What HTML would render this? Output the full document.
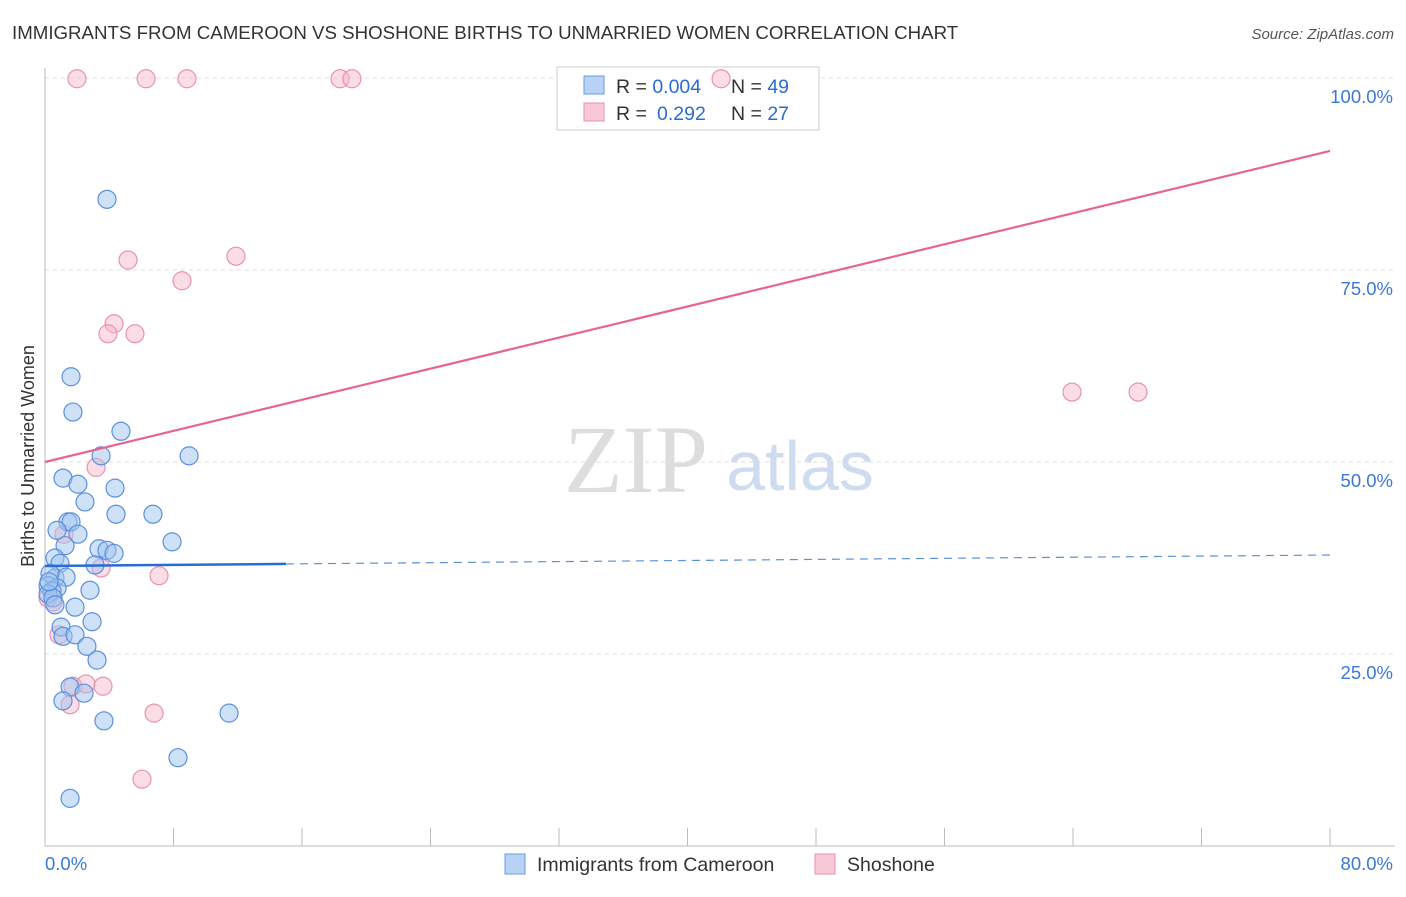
<!DOCTYPE html>
<html><head><meta charset="utf-8"><style>
body{margin:0;background:#fff;font-family:"Liberation Sans",sans-serif}
#c{position:relative;width:1406px;height:892px}
</style></head><body>
<div id="c">
<svg id="s" width="1406" height="892" xmlns="http://www.w3.org/2000/svg">
<text x="12" y="39" font-size="18.7" fill="#333">IMMIGRANTS FROM CAMEROON VS SHOSHONE BIRTHS TO UNMARRIED WOMEN CORRELATION CHART</text>
<text x="1394" y="39" font-size="15" fill="#555" font-style="italic" text-anchor="end">Source: ZipAtlas.com</text>
<text x="0" y="0" transform="translate(34,456) rotate(-90)" font-size="18" fill="#333" text-anchor="middle">Births to Unmarried Women</text>
<text x="636" y="492" font-size="96" fill="#ddd" font-family="Liberation Serif,serif" text-anchor="middle">ZIP</text>
<text x="800" y="490" font-size="70" fill="#cfdcef" text-anchor="middle">atlas</text>
<g id="grid"></g>
<rect x="557" y="67" width="262" height="63" fill="#fff" stroke="#ccc"/>
<rect x="584" y="76" width="20" height="18" fill="#b8d2f5" stroke="#6a9ae0"/>
<rect x="584" y="103" width="20" height="18" fill="#f8c8d6" stroke="#e890aa"/>
<text x="616" y="93" font-size="19.5" fill="#333">R = <tspan fill="#2a6bd4">0.004</tspan><tspan x="731">N = </tspan><tspan fill="#2a6bd4">49</tspan></text>
<text x="616" y="120" font-size="19.5" fill="#333">R = <tspan x="657" fill="#2a6bd4">0.292</tspan><tspan x="731">N = </tspan><tspan fill="#2a6bd4">27</tspan></text>
<g id="pts"></g><g id="trend"></g>
<rect x="505" y="854" width="20" height="20" fill="#b8d2f5" stroke="#6a9ae0"/>
<text x="537" y="871" font-size="19.5" fill="#333">Immigrants from Cameroon</text>
<rect x="815" y="854" width="20" height="20" fill="#f8c8d6" stroke="#e890aa"/>
<text x="847" y="871" font-size="19.5" fill="#333">Shoshone</text>
</svg></div>
<script>
const blueX=[3.86,1.62,1.74,4.73,3.49,8.97,1.12,2.05,4.36,2.49,4.42,6.72,1.43,1.62,0.75,2.05,1.25,3.36,3.86,4.30,0.62,0.93,3.11,0.62,1.31,0.31,0.19,0.75,0.44,0.19,0.50,0.62,2.80,1.87,2.93,1.00,1.12,1.87,2.61,3.24,7.91,1.56,2.43,1.12,3.67,11.46,8.28,1.56,0.25];
const blueY=[84.2,61.1,56.5,54.0,50.8,50.8,47.9,47.1,46.6,44.8,43.2,43.2,42.2,42.2,41.1,40.6,39.1,38.7,38.5,38.1,37.5,36.8,36.6,34.9,35.0,35.5,33.9,33.6,33.2,32.8,32.3,31.4,33.3,31.1,29.2,28.5,27.3,27.5,26.0,24.2,39.6,20.7,19.9,18.9,16.3,17.3,11.5,6.2,34.4];
const pinkX=[1.99,6.29,8.84,18.37,19.11,42.09,5.17,11.89,8.53,4.30,3.92,5.60,3.18,1.18,3.49,7.10,0.50,0.87,1.74,2.55,3.61,1.56,6.79,6.04,63.94,68.05,0.19];
const pinkY=[99.9,99.9,99.9,99.9,99.9,99.9,76.3,76.8,73.6,68.0,66.7,66.7,49.3,40.6,36.2,35.2,31.8,27.5,20.8,21.1,20.8,18.4,17.3,8.7,59.1,59.1,32.3];
const yTicks=[25,50,75,100];
const yTickLabels=["25.0%","50.0%","75.0%","100.0%"];
const blueTrend=[36.46,37.89];
const pinkTrend=[50.0,90.5];
const NS="http://www.w3.org/2000/svg";
const X=v=>45+v/80*1285, Y=v=>846-v/100*768;
function mk(t,a,p){const e=document.createElementNS(NS,t);for(const k in a)e.setAttribute(k,a[k]);p.appendChild(e);return e;}
const g=document.getElementById('grid');
yTicks.forEach((t,i)=>{
 const l=mk('line',{x1:45,x2:1395,y1:Y(t),y2:Y(t),stroke:'#ddd','stroke-dasharray':'4,4'},g);
 
 
 const tx=mk('text',{x:1393,y:Y(t)+25,'font-size':18.5,fill:'#3b78d8','text-anchor':'end'},g);
 tx.textContent=yTickLabels[i];
 
 
});
const ax=mk('line',{x1:45,x2:1395,y1:846,y2:846,stroke:'#bbb'},g);


const ay=mk('line',{x1:45,x2:45,y1:68,y2:846,stroke:'#bbb'},g);


for(let i=0;i<=10;i++){const t=mk('line',{x1:X(i*8),x2:X(i*8),y1:828,y2:846,stroke:'#bbb'},g);
 
 }
const x0=mk('text',{x:45,y:870,'font-size':18.5,fill:'#3b78d8'},g);x0.textContent='0.0%';


const x1=mk('text',{x:1393,y:870,'font-size':18.5,fill:'#3b78d8','text-anchor':'end'},g);x1.textContent='80.0%';


const p=document.getElementById('pts');
pinkX.forEach((v,i)=>{const c=mk('circle',{cx:X(v),cy:Y(pinkY[i]),r:9,fill:'rgba(246,180,200,0.45)',stroke:'#e992ad','stroke-width':1.2},p);
 
 });
blueX.forEach((v,i)=>{const c=mk('circle',{cx:X(v),cy:Y(blueY[i]),r:9,fill:'rgba(160,195,240,0.5)',stroke:'#5b90dd','stroke-width':1.2},p);
 
 });
const tr=document.getElementById('trend');
const bAt=x=>blueTrend[0]+(blueTrend[1]-blueTrend[0])*x/80;
const b1=mk('line',{x1:X(0),y1:Y(bAt(0)),x2:X(15),y2:Y(bAt(15)),stroke:'#2a6bd4','stroke-width':2.5},tr);


const b2=mk('line',{x1:X(15),y1:Y(bAt(15)),x2:X(80),y2:Y(bAt(80)),stroke:'#5b90dd','stroke-width':1.2,'stroke-dasharray':'8,6'},tr);


const pl=mk('line',{x1:X(0),y1:Y(pinkTrend[0]),x2:X(80),y2:Y(pinkTrend[1]),stroke:'#e8648f','stroke-width':2.2},tr);


</script>
</body></html>
